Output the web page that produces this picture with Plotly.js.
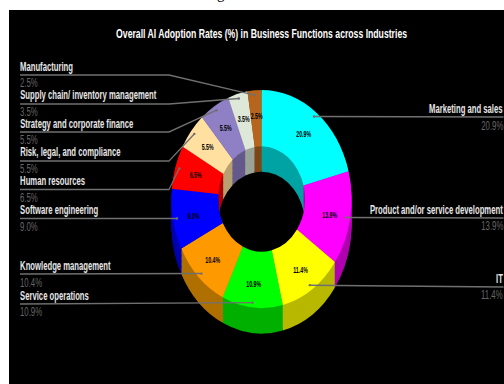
<!DOCTYPE html>
<html>
<head>
<meta charset="utf-8">
<script src="https://cdn.plot.ly/plotly-3.0.1.min.js"></script>
<style>
  html, body { margin: 0; padding: 0; background: #fff; overflow: hidden; }
</style>
</head>
<body>
<!-- The whole figure is drawn tall: circles become ellipses and type becomes condensed. -->
<div id="stretch" style="width:504px;height:384px;overflow:hidden;position:absolute;left:0;top:0;">
<div id="chart" style="width:504px;height:317px;position:absolute;left:0;top:0;transform-origin:0 0;transform:scale(1,1.2114);"></div>
</div>
<script>
// Adoption share per business function, clockwise from twelve o'clock
const categories = ["Marketing and sales", "Product and/or service development", "IT", "Service operations",
  "Knowledge management", "Software engineering", "Human resources", "Risk, legal, and compliance",
  "Strategy and corporate finance", "Supply chain/ inventory management", "Manufacturing"];
const shares = [20.9, 13.9, 11.4, 10.9, 10.4, 9.0, 6.5, 5.5, 5.5, 3.5, 2.5];
const faceColors = ["#00ffff", "#ff00ff", "#ffff00", "#00ff00", "#ff9900", "#0000ff", "#ff0000", "#ffe0a0", "#8f7fc4", "#dde8d8", "#b5651d"];
const wallColors = ["#00a3a3", "#b000b0", "#b8b800", "#00b000", "#b07000", "#0000b0", "#b00000", "#b8a070", "#65598c", "#9aa397", "#7d4614"];
const chartTitle = "Overall AI Adoption Rates (%) in Business Functions across Industries";

// Geometry, in screen pixels of the 504x384 page
const W = 504, H = 384, LAYOUT_H = 317, STRETCH = H / LAYOUT_H;
const CX = 261.5, CY = 199, R = 90, DEPTH_STEPS = 21, HOLE = 0.483;
const LEADER_R = 86, VALUE_R = 69.5;
const LEFT_X = 20, RIGHT_X = 503.5, ELBOW_X = 169;
// Height of each label's rule, in the order of categories
const ruleY = [117, 218, 287, 304, 274, 218.5, 189.5, 161, 132, 104, 75];
const side = ["r", "r", "r", "l", "l", "l", "l", "l", "l", "l", "l"];
const FONT = "Liberation Sans, sans-serif";

const px = x => x / W;
const py = y => 1 - y / H;

function pieLayer(offset, colors) {
  const cy = 1 - (CY / STRETCH + offset) / LAYOUT_H;
  return {
    type: "pie", values: shares, labels: categories, sort: false, direction: "clockwise", rotation: 0,
    hole: HOLE, marker: { colors: colors, line: { width: 0 } },
    domain: { x: [px(CX - R), px(CX + R)], y: [cy - R / LAYOUT_H, cy + R / LAYOUT_H] },
    hoverinfo: "skip", showlegend: false, textinfo: "none"
  };
}

// Side wall: darkened copies stepped downward, then the lit top face
const traces = [];
for (let i = DEPTH_STEPS; i > 0; i--) traces.push(pieLayer(i, wallColors));
traces.push(pieLayer(0, faceColors));

const shapes = [{ type: "rect", xref: "paper", yref: "paper", x0: px(9), x1: 1, y0: 0, y1: py(10),
  fillcolor: "#000", line: { width: 0 }, layer: "below" }];

// Horizontal squeeze per annotation, applied once the text exists
const squeeze = [];
const annotations = [];
function addText(text, x, y, xanchor, yanchor, size, color, narrow, family) {
  annotations.push({ text: text, xref: "paper", yref: "paper", x: px(x), y: py(y), xanchor: xanchor, yanchor: yanchor,
    showarrow: false, borderpad: 0, font: { family: family || FONT, size: size, color: color } });
  squeeze.push({ factor: narrow, anchor: xanchor });
}

addText("<b>" + chartTitle + "</b>", 261.5, 33.5, "center", "middle", 10.4, "#fff", 0.834);

let running = 0;
shares.forEach((share, i) => {
  const mid = (running + share / 2) / 100 * 2 * Math.PI;
  running += share;
  const dotX = CX + LEADER_R * Math.sin(mid);
  const dotY = CY - LEADER_R * Math.cos(mid) * STRETCH;
  const y = ruleY[i];
  const bent = i >= 6;
  const d = side[i] === "r"
    ? `M ${px(dotX)} ${py(dotY)} L ${px(RIGHT_X)} ${py(y)}`
    : bent
      ? `M ${px(dotX)} ${py(dotY)} L ${px(ELBOW_X)} ${py(y)} L ${px(LEFT_X)} ${py(y)}`
      : `M ${px(dotX)} ${py(dotY)} L ${px(LEFT_X)} ${py(y)}`;
  shapes.push({ type: "path", path: d, xref: "paper", yref: "paper", line: { color: "#707070", width: 1.2 }, layer: "above" });
  shapes.push({ type: "circle", xref: "paper", yref: "paper",
    x0: px(dotX - 1.2), x1: px(dotX + 1.2), y0: py(dotY + 1.2), y1: py(dotY - 1.2),
    fillcolor: "#707070", line: { width: 0 }, layer: "above" });

  const tx = side[i] === "r" ? RIGHT_X : LEFT_X - 1;
  const anchor = side[i] === "r" ? "right" : "left";
  const pct = share.toFixed(1) + "%";
  addText("<b>" + categories[i] + "</b>", tx, y - 0.5, anchor, "bottom", 10, "#e6e6e6", 0.77);
  addText(pct, tx, y + 0.5, anchor, "top", 10, "#666", 0.78);

  // Value printed on the slice itself
  addText("<b>" + pct + "</b>", CX + VALUE_R * Math.sin(mid), CY - VALUE_R * Math.cos(mid) * STRETCH + 1,
    "center", "middle", 7.5, "#000", 0.7);
});

// Tail of the page heading sitting above the black panel
addText("g", 221, 3, "center", "bottom", 15, "#000", 1, "Liberation Serif, serif");

Plotly.newPlot("chart", traces, {
  width: W, height: LAYOUT_H, margin: { l: 0, r: 0, t: 0, b: 0, pad: 0 },
  paper_bgcolor: "#fff", plot_bgcolor: "rgba(0,0,0,0)", showlegend: false,
  xaxis: { visible: false }, yaxis: { visible: false },
  shapes: shapes, annotations: annotations
}, { displayModeBar: false, staticPlot: true }).then(gd => {
  // The installed sans has no narrow cut, so condense each label about its anchor edge
  gd.querySelectorAll(".annotation").forEach(node => {
    const info = squeeze[+node.getAttribute("data-index")];
    const text = node.querySelector(".annotation-text");
    if (!info || !text || info.factor === 1) return;
    const box = text.getBBox();
    const ax = info.anchor === "left" ? box.x : info.anchor === "right" ? box.x + box.width : box.x + box.width / 2;
    text.setAttribute("transform", `translate(${ax} 0) scale(${info.factor} 1) translate(${-ax} 0)`);
  });
});
</script>
</body>
</html>
